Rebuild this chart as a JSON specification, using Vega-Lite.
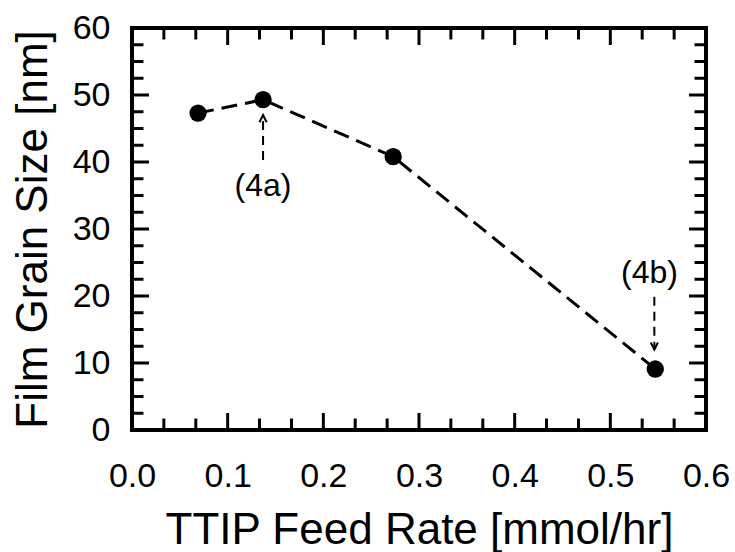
{
  "$schema": "https://vega.github.io/schema/vega-lite/v6.json",
  "width": 574,
  "height": 402,
  "autosize": "none",
  "padding": {"left": 132, "top": 28, "right": 29, "bottom": 122},
  "background": "white",
  "config": {
    "view": {"stroke": "black", "strokeWidth": 4},
    "font": "Liberation Sans",
    "axis": {
      "labelFont": "Liberation Sans",
      "titleFont": "Liberation Sans",
      "labelColor": "black",
      "titleColor": "black",
      "domain": false,
      "grid": false,
      "ticks": false,
      "titleFontWeight": "normal",
      "labelFontSize": 34,
      "titleFontSize": 44
    }
  },
  "datasets": {
    "pts": [
      {"rate": 0.069, "size": 47.3},
      {"rate": 0.137, "size": 49.3},
      {"rate": 0.273, "size": 40.8},
      {"rate": 0.547, "size": 9.1}
    ],
    "arrows": [
      {"rate": 0.137, "from": 40.3, "to": 47.0, "dir": "up"},
      {"rate": 0.546, "from": 19.9, "to": 12.0, "dir": "down"}
    ],
    "labels": [
      {"rate": 0.137, "size": 36.4, "label": "(4a)"},
      {"rate": 0.541, "size": 23.4, "label": "(4b)"}
    ],
    "xticks": [
      {"v": 0.0, "kind": "major"}, {"v": 0.0333, "kind": "minor"}, {"v": 0.0667, "kind": "minor"},
      {"v": 0.1, "kind": "major"}, {"v": 0.1333, "kind": "minor"}, {"v": 0.1667, "kind": "minor"},
      {"v": 0.2, "kind": "major"}, {"v": 0.2333, "kind": "minor"}, {"v": 0.2667, "kind": "minor"},
      {"v": 0.3, "kind": "major"}, {"v": 0.3333, "kind": "minor"}, {"v": 0.3667, "kind": "minor"},
      {"v": 0.4, "kind": "major"}, {"v": 0.4333, "kind": "minor"}, {"v": 0.4667, "kind": "minor"},
      {"v": 0.5, "kind": "major"}, {"v": 0.5333, "kind": "minor"}, {"v": 0.5667, "kind": "minor"},
      {"v": 0.6, "kind": "major"}
    ],
    "yticks": [
      {"v": 0, "kind": "major"}, {"v": 2.5, "kind": "minor"}, {"v": 5, "kind": "minor"}, {"v": 7.5, "kind": "minor"},
      {"v": 10, "kind": "major"}, {"v": 12.5, "kind": "minor"}, {"v": 15, "kind": "minor"}, {"v": 17.5, "kind": "minor"},
      {"v": 20, "kind": "major"}, {"v": 22.5, "kind": "minor"}, {"v": 25, "kind": "minor"}, {"v": 27.5, "kind": "minor"},
      {"v": 30, "kind": "major"}, {"v": 32.5, "kind": "minor"}, {"v": 35, "kind": "minor"}, {"v": 37.5, "kind": "minor"},
      {"v": 40, "kind": "major"}, {"v": 42.5, "kind": "minor"}, {"v": 45, "kind": "minor"}, {"v": 47.5, "kind": "minor"},
      {"v": 50, "kind": "major"}, {"v": 52.5, "kind": "minor"}, {"v": 55, "kind": "minor"}, {"v": 57.5, "kind": "minor"},
      {"v": 60, "kind": "major"}
    ]
  },
  "layer": [
    {
      "data": {"name": "xticks"},
      "mark": {"type": "point", "shape": "M0,0L0,-2", "filled": false, "color": "black", "strokeWidth": 3, "opacity": 1},
      "encoding": {
        "x": {"field": "v", "type": "quantitative", "scale": {"domain": [0, 0.6], "nice": false},
          "axis": {"orient": "bottom", "title": "TTIP Feed Rate [mmol/hr]", "values": [0, 0.1, 0.2, 0.3, 0.4, 0.5, 0.6], "format": ".1f",
            "labelPadding": 29, "titlePadding": 15, "labelFlush": false, "labelOverlap": false}},
        "y": {"datum": 0, "type": "quantitative", "scale": {"domain": [0, 60], "nice": false},
          "axis": {"orient": "left", "title": "Film Grain Size [nm]", "values": [0, 10, 20, 30, 40, 50, 60],
            "labelPadding": 22, "titlePadding": 17, "labelFlush": false, "labelOverlap": false}},
        "size": {"field": "kind", "type": "nominal", "legend": null, "scale": {"domain": ["major", "minor"], "range": [289, 132]}}
      }
    },
    {
      "data": {"name": "xticks"},
      "mark": {"type": "point", "shape": "M0,0L0,2", "filled": false, "color": "black", "strokeWidth": 3, "opacity": 1},
      "encoding": {
        "x": {"field": "v", "type": "quantitative"},
        "y": {"datum": 60, "type": "quantitative"},
        "size": {"field": "kind", "type": "nominal", "legend": null, "scale": {"domain": ["major", "minor"], "range": [289, 132]}}
      }
    },
    {
      "data": {"name": "yticks"},
      "mark": {"type": "point", "shape": "M0,0L2,0", "filled": false, "color": "black", "strokeWidth": 3, "opacity": 1},
      "encoding": {
        "x": {"datum": 0, "type": "quantitative"},
        "y": {"field": "v", "type": "quantitative"},
        "size": {"field": "kind", "type": "nominal", "legend": null, "scale": {"domain": ["major", "minor"], "range": [289, 132]}}
      }
    },
    {
      "data": {"name": "yticks"},
      "mark": {"type": "point", "shape": "M0,0L-2,0", "filled": false, "color": "black", "strokeWidth": 3, "opacity": 1},
      "encoding": {
        "x": {"datum": 0.6, "type": "quantitative"},
        "y": {"field": "v", "type": "quantitative"},
        "size": {"field": "kind", "type": "nominal", "legend": null, "scale": {"domain": ["major", "minor"], "range": [289, 132]}}
      }
    },
    {
      "data": {"name": "pts"},
      "mark": {"type": "line", "color": "black", "strokeWidth": 3, "strokeDash": [16, 8]},
      "encoding": {
        "x": {"field": "rate", "type": "quantitative"},
        "y": {"field": "size", "type": "quantitative"}
      }
    },
    {
      "data": {"name": "pts"},
      "mark": {"type": "point", "filled": true, "color": "black", "opacity": 1, "size": 300, "shape": "circle"},
      "encoding": {
        "x": {"field": "rate", "type": "quantitative"},
        "y": {"field": "size", "type": "quantitative"}
      }
    },
    {
      "data": {"name": "arrows"},
      "mark": {"type": "rule", "color": "black", "strokeWidth": 2, "strokeDash": [9, 6]},
      "encoding": {
        "x": {"field": "rate", "type": "quantitative"},
        "y": {"field": "from", "type": "quantitative"},
        "y2": {"field": "to"}
      }
    },
    {
      "data": {"name": "arrows"},
      "mark": {"type": "point", "filled": false, "color": "black", "strokeWidth": 2, "opacity": 1, "size": 80},
      "encoding": {
        "x": {"field": "rate", "type": "quantitative"},
        "y": {"field": "to", "type": "quantitative"},
        "shape": {"field": "dir", "type": "nominal", "legend": null,
          "scale": {"domain": ["up", "down"], "range": ["M-0.8,1.6L0,0L0.8,1.6", "M-0.8,-1.6L0,0L0.8,-1.6"]}}
      }
    },
    {
      "data": {"name": "labels"},
      "mark": {"type": "text", "font": "Liberation Sans", "fontSize": 32, "color": "black", "align": "center", "baseline": "middle"},
      "encoding": {
        "x": {"field": "rate", "type": "quantitative"},
        "y": {"field": "size", "type": "quantitative"},
        "text": {"field": "label"}
      }
    }
  ]
}
